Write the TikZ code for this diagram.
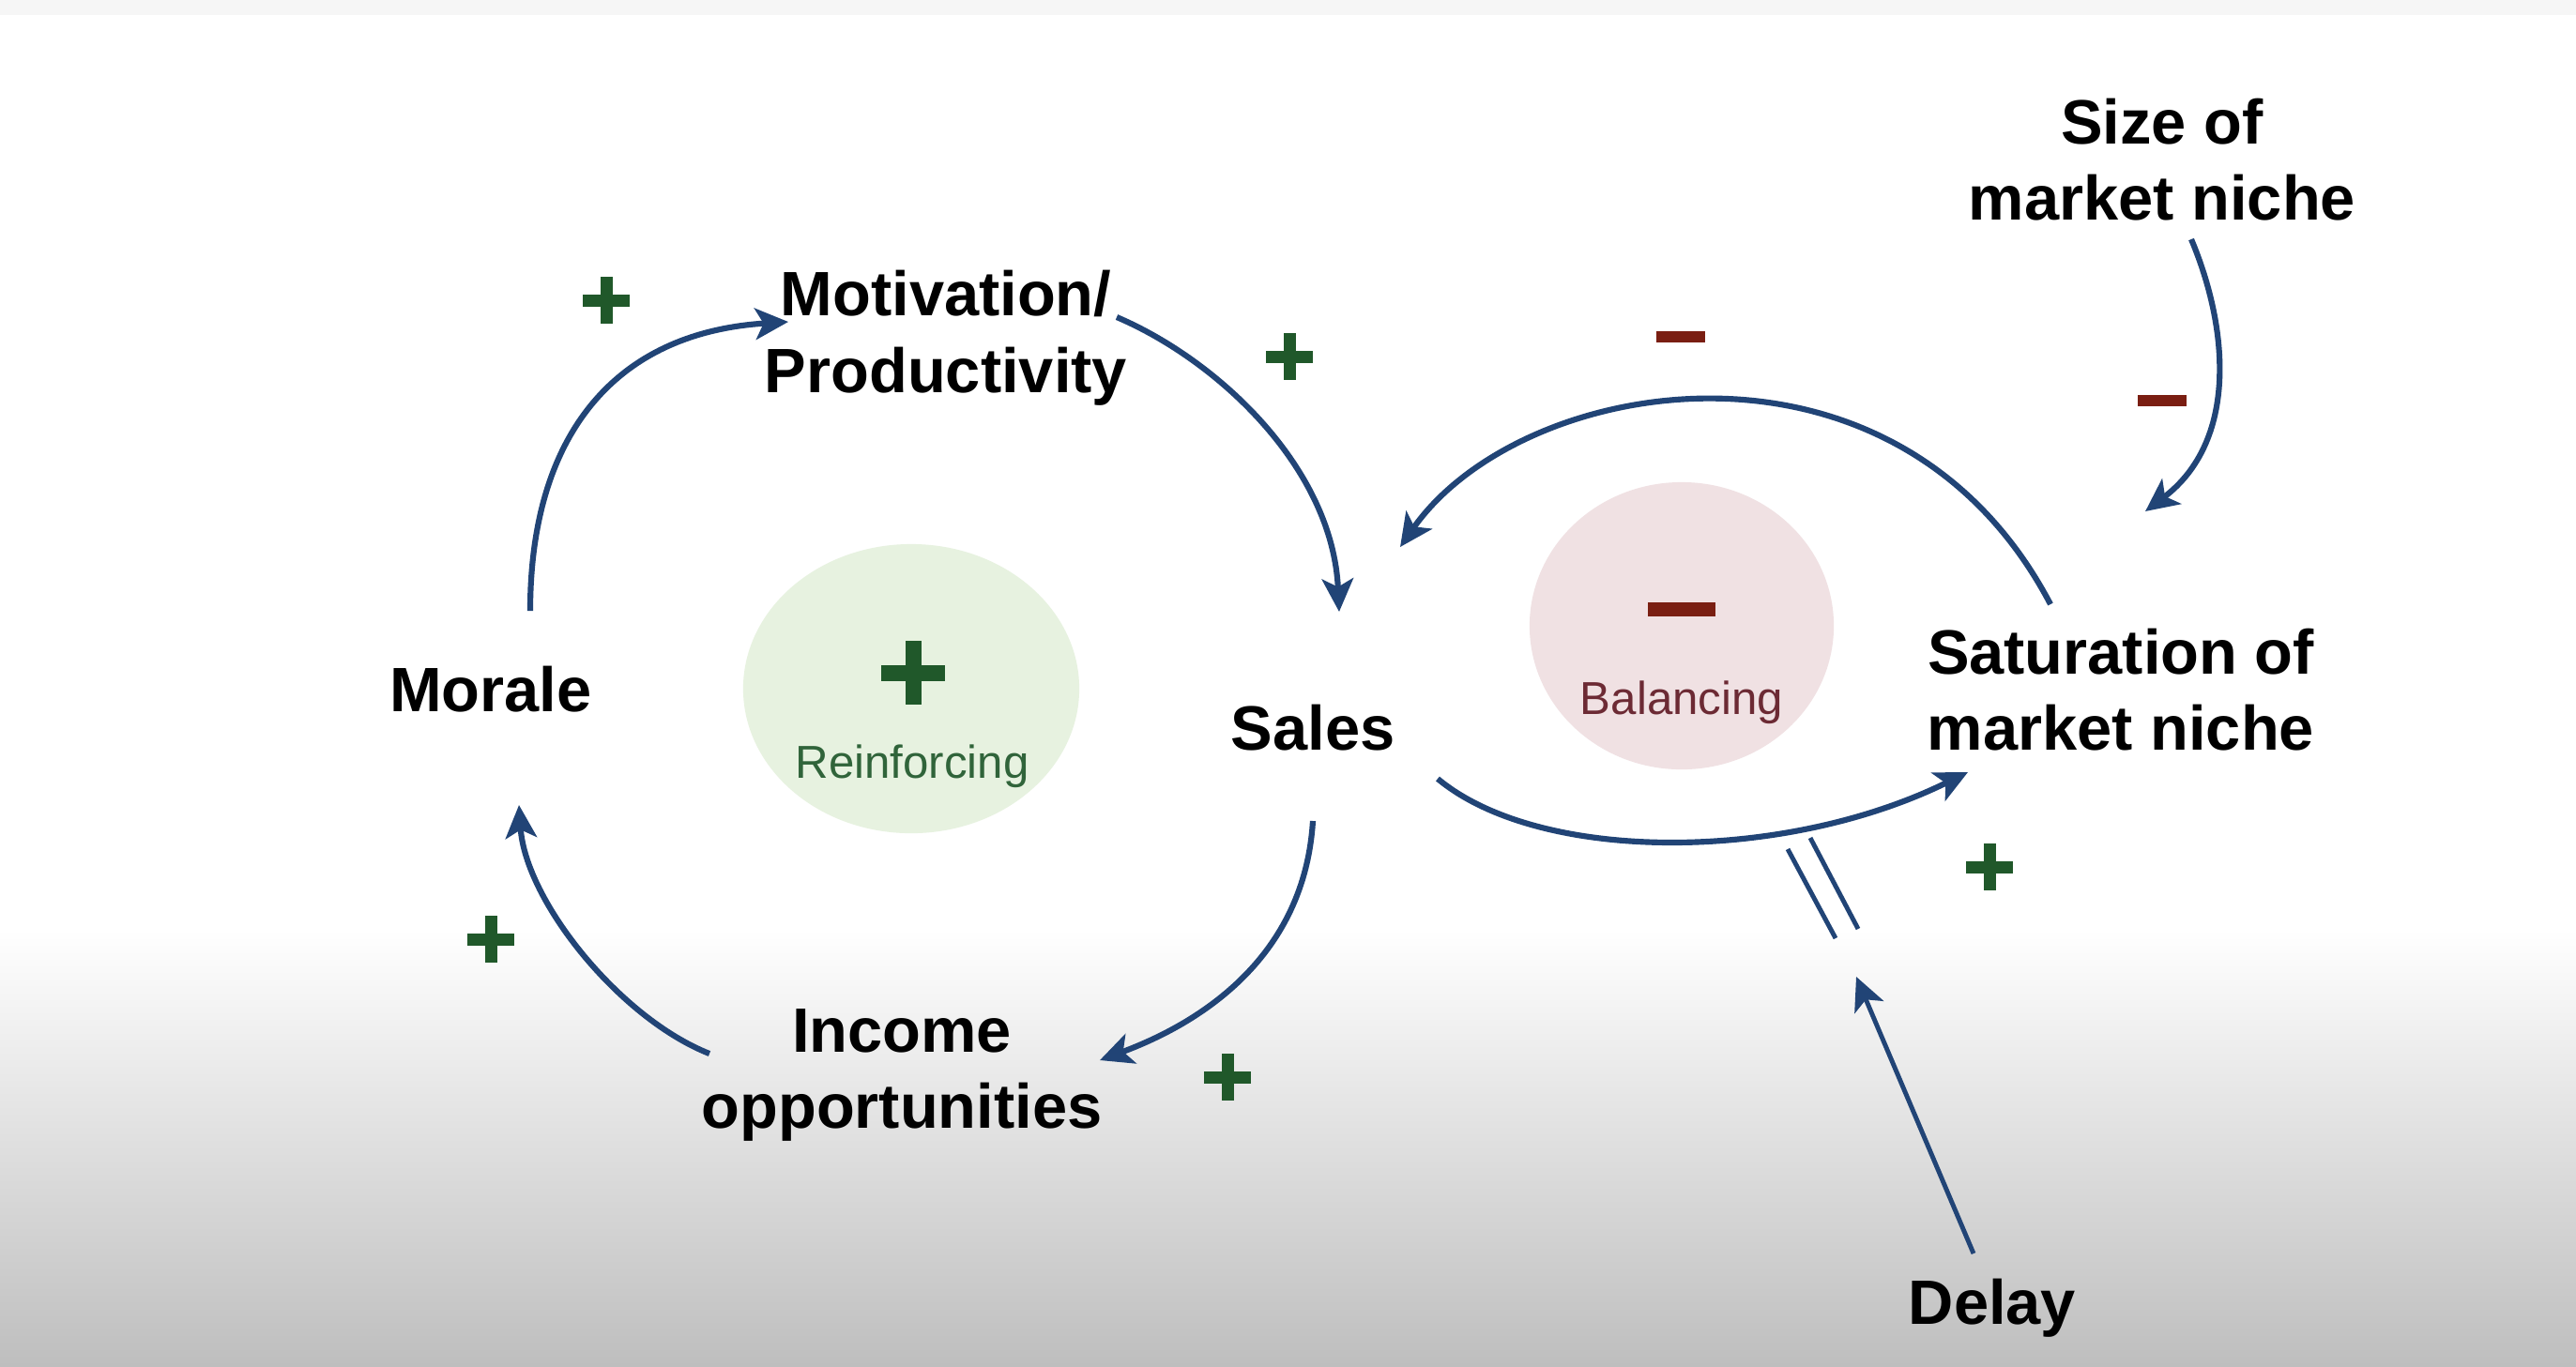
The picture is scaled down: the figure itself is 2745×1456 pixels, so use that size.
\documentclass[tikz,border=0pt]{standalone}
\usepackage{fontspec}
\setmainfont{Liberation Sans}
\usetikzlibrary{arrows.meta,shapes.geometric,calc}
\definecolor{arrowblue}{RGB}{33,68,118}
\definecolor{pgreen}{RGB}{32,88,42}
\definecolor{mred}{RGB}{122,30,18}
\definecolor{rfill}{RGB}{231,242,224}
\definecolor{rtext}{RGB}{48,100,58}
\definecolor{bfill}{RGB}{240,225,227}
\definecolor{btext}{RGB}{108,42,52}
\definecolor{botgray}{RGB}{190,190,190}
\definecolor{topband}{RGB}{246,246,246}
\tikzset{
  lbl/.style={font=\fontsize{19}{23.2}\selectfont\bfseries, align=center, inner sep=0pt, text=black},
  looplbl/.style={font=\fontsize{14}{17}\selectfont, inner sep=0pt},
  link/.style={draw=arrowblue, line width=1.75pt, -{Stealth[length=10pt,width=9.5pt,inset=2.5pt]}},
  smallplus/.style={minimum size=0.5cm, inner sep=0pt, path picture={
      \fill[pgreen] ([yshift=-0.065cm]path picture bounding box.west) rectangle ([yshift=0.065cm]path picture bounding box.east);
      \fill[pgreen] ([xshift=-0.065cm]path picture bounding box.south) rectangle ([xshift=0.065cm]path picture bounding box.north);}},
  bigplus/.style={minimum size=0.68cm, inner sep=0pt, path picture={
      \fill[pgreen] ([yshift=-0.085cm]path picture bounding box.west) rectangle ([yshift=0.085cm]path picture bounding box.east);
      \fill[pgreen] ([xshift=-0.085cm]path picture bounding box.south) rectangle ([xshift=0.085cm]path picture bounding box.north);}},
  smallminus/.style={fill=mred, minimum width=0.52cm, minimum height=0.12cm, inner sep=0pt},
  bigminus/.style={fill=mred, minimum width=0.72cm, minimum height=0.15cm, inner sep=0pt},
}
\begin{document}
\begin{tikzpicture}[x=0.01cm,y=-0.01cm]
\useasboundingbox (0,0) rectangle (2745,1456);
% background
\fill[white] (0,0) rectangle (2745,1456);
\fill[topband] (0,0) rectangle (2745,16);
\shade[top color=white, bottom color=botgray] (0,990) rectangle (2745,1456);

% loop circles
\node[ellipse, fill=rfill, minimum width=3.58cm, minimum height=3.08cm] (rloop) at (971,734) {};
\node[ellipse, fill=bfill, minimum width=3.24cm, minimum height=3.06cm] (bloop) at (1792,667) {};
\node[bigplus] (rsign) at (973,717) {};
\node[looplbl, text=rtext] (rtxt) at (972,817) {Reinforcing};
\node[bigminus] (bsign) at (1792,649) {};
\node[looplbl, text=btext] (btxt) at (1792,749) {Balancing};

% variables
\node[lbl] (morale) at (523,735) {Morale};
\node[lbl] (motiv) at (1008,360) {Motivation/\\Productivity};
\node[lbl] (sales) at (1399,776) {Sales};
\node[lbl] (income) at (961,1146) {Income\\opportunities};
\node[lbl] (satur) at (2260,735) {Saturation of\\market niche};
\node[lbl] (size) at (2304,170) {Size of\\market niche};
\node[lbl] (delay) at (2123,1394) {Delay};

% polarity signs
\node[smallplus] (p1) at (646,320) {};
\node[smallplus] (p2) at (1374,380) {};
\node[smallplus] (p3) at (523,1001) {};
\node[smallplus] (p4) at (1308,1148) {};
\node[smallplus] (p5) at (2120,924) {};
\node[smallminus] (m1) at (1791,359) {};
\node[smallminus] (m2) at (2304,427) {};

% causal links
\draw[link] ($(morale)+(42,-84)$) .. controls (565,470) and (650,355) .. ($(motiv)+(-168,-17)$);
\draw[link] ($(motiv)+(182,-22)$) .. controls (1300,385) and (1420,500) .. ($(sales)+(28,-124)$);
\draw[link] ($(sales)+(0,99)$) .. controls (1390,1020) and (1280,1090) .. ($(income)+(211,-16)$);
\draw[link] ($(income)+(-205,-23)$) .. controls (660,1085) and (560,960) .. ($(morale)+(30,123)$);
\draw[link] ($(satur)+(-75,-91)$) .. controls (2020,330) and (1620,400) .. ($(sales)+(93,-193)$);
\draw[link] ($(sales)+(133,54)$) .. controls (1640,920) and (1900,920) .. ($(satur)+(-163,88)$);
\draw[link] ($(size)+(31,85)$) .. controls (2375,350) and (2385,470) .. ($(satur)+(26,-190)$);

% delay mark
\coordinate (dm1a) at (1905,905);
\coordinate (dm1b) at (1956,1000);
\coordinate (dm2a) at (1929,893);
\coordinate (dm2b) at (1980,990);
\draw[arrowblue, line width=1.4pt] (dm1a) -- (dm1b);
\draw[arrowblue, line width=1.4pt] (dm2a) -- (dm2b);
\coordinate (delaytip) at (1978,1041);
\draw[link, line width=1.4pt] ($(delay)+(-20,-58)$) -- (delaytip);
\end{tikzpicture}
\end{document}
